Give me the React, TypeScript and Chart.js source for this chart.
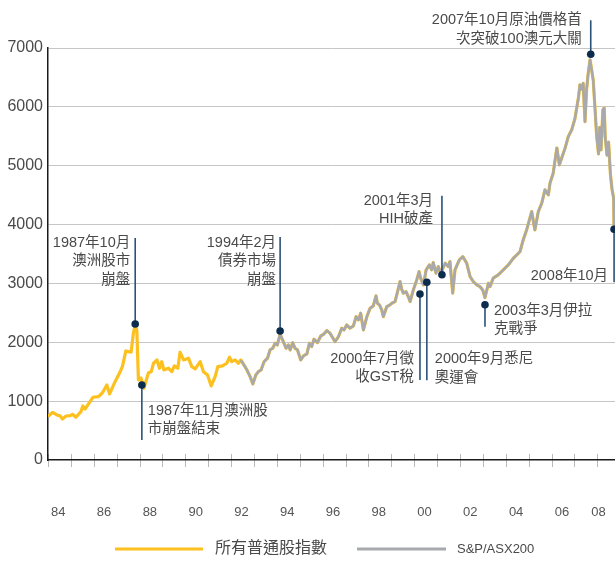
import { useEffect, useRef } from "react";
import { Chart, registerables } from "chart.js";

Chart.register(...registerables);

// ---- data ----
const allOrdsYears = [
  1984.0, 1984.2, 1984.39, 1984.53, 1984.63, 1984.79, 1984.97, 1985.07, 1985.22, 1985.44,
  1985.52, 1985.62, 1985.77, 1985.96, 1986.21, 1986.38, 1986.57, 1986.69, 1986.93, 1987.12,
  1987.25, 1987.4, 1987.63, 1987.73, 1987.81, 1987.88, 1987.95, 1988.06, 1988.19, 1988.32,
  1988.39, 1988.51, 1988.61, 1988.76, 1988.87, 1988.97, 1989.06, 1989.26, 1989.41, 1989.52,
  1989.67, 1989.77, 1989.92, 1990.14, 1990.28, 1990.43, 1990.65, 1990.79, 1990.97, 1991.13,
  1991.3, 1991.42, 1991.62, 1991.81, 1991.93, 1992.03, 1992.17, 1992.32, 1992.42, 1992.52,
  1992.69, 1992.83, 1992.95, 1993.08, 1993.19, 1993.31, 1993.44, 1993.59, 1993.7, 1993.82,
  1993.92, 1994.02, 1994.14, 1994.28, 1994.4, 1994.5, 1994.58, 1994.69, 1994.79, 1994.9,
  1995.04, 1995.16, 1995.31, 1995.42, 1995.52, 1995.62, 1995.77, 1995.92, 1996.05, 1996.18,
  1996.32, 1996.54, 1996.69, 1996.83, 1996.93, 1997.05, 1997.19, 1997.34, 1997.46, 1997.56,
  1997.66, 1997.78, 1997.93, 1998.07, 1998.21, 1998.33, 1998.39, 1998.48, 1998.58, 1998.65,
  1998.8, 1998.94, 1999.02, 1999.16, 1999.31, 1999.38, 1999.45, 1999.52, 1999.64, 1999.74,
  1999.82, 1999.96, 2000.11, 2000.21, 2000.28, 2000.4, 2000.52, 2000.66, 2000.76, 2000.83,
  2000.95, 2001.05, 2001.16, 2001.35, 2001.49, 2001.56, 2001.68, 2001.78, 2001.97, 2002.12,
  2002.29, 2002.44, 2002.58, 2002.73, 2002.87, 2002.99, 2003.09, 2003.24, 2003.31, 2003.45,
  2003.67, 2003.89, 2004.11, 2004.33, 2004.48, 2004.62, 2004.76, 2004.91, 2005.13, 2005.27,
  2005.42, 2005.57, 2005.71, 2005.86, 2005.93, 2006.07, 2006.19, 2006.23, 2006.34, 2006.44,
  2006.59, 2006.73, 2006.88, 2007.02, 2007.17, 2007.24, 2007.31, 2007.38, 2007.46, 2007.53,
  2007.6, 2007.68, 2007.75, 2007.82, 2007.9, 2007.97, 2008.05, 2008.1, 2008.16, 2008.24,
  2008.3, 2008.34, 2008.42, 2008.49, 2008.57, 2008.64, 2008.71, 2008.73, 2008.8,
];
const allOrdsValues = [
  740, 810, 765, 750, 697, 748, 753, 777, 726, 822,
  918, 867, 952, 1066, 1076, 1144, 1275, 1122, 1331, 1474,
  1586, 1853, 1831, 2154, 2295, 2210, 1360, 1394, 1219, 1394,
  1484, 1501, 1644, 1700, 1559, 1671, 1530, 1559, 1501, 1598,
  1559, 1831, 1700, 1729, 1586, 1547, 1671, 1501, 1445, 1258,
  1416, 1586, 1598, 1644, 1746, 1671, 1700, 1644, 1700, 1640,
  1530, 1416, 1292, 1445, 1501, 1530, 1671, 1729, 1870, 1899,
  1984, 1955, 2140, 2011, 1899, 1955, 1870, 1994, 1899, 1870,
  1700, 1768, 1802, 1984, 1927, 2052, 1994, 2110, 2140, 2199,
  2154, 2011, 2096, 2239, 2210, 2295, 2239, 2278, 2436, 2380,
  2494, 2210, 2436, 2579, 2618, 2788, 2664, 2635, 2550, 2436,
  2606, 2635, 2664, 2691, 2919, 3031, 2902, 2834, 2861, 2776,
  2691, 2890, 3060, 3201, 3089, 2975, 3230, 3315, 3230, 3354,
  3174, 3286, 3174, 3344, 3286, 3371, 2834, 3230, 3400, 3456,
  3344, 3116, 3031, 2975, 2946, 2890, 2760, 3003, 2946, 3089,
  3145, 3230, 3315, 3428, 3485, 3541, 3740, 3910, 4221, 3910,
  4221, 4363, 4590, 4505, 4703, 4873, 5200, 5300, 5015, 5130,
  5300, 5496, 5610, 5800, 6150, 6375, 6300, 6400, 5750, 6300,
  6570, 6800, 6630, 6450, 5950, 5500, 5200, 5650, 5270, 5950,
  5980, 5500, 5180, 5400, 4850, 4600, 4450, 3930, 3900,
];
const asx200StartYear = 1992.42;

const seriesNames = ["所有普通股指數", "S&P/ASX200"];
const yTickValues = [0, 1000, 2000, 3000, 4000, 5000, 6000, 7000];
const xTickLabels = ["84", "86", "88", "90", "92", "94", "96", "98", "00", "02", "04", "06", "08"];
const xTickYears = [1984.45, 1986.45, 1988.45, 1990.45, 1992.45, 1994.45, 1996.45, 1998.45, 2000.45, 2002.45, 2004.45, 2006.45, 2008.05];

const eventYears = [1987.81, 1988.1, 1994.14, 2001.21, 2000.25, 2000.55, 2003.09, 2007.71, 2008.73];
const eventValues = [2311, 1274, 2192, 3148, 2820, 3019, 2639, 6893, 3920];
const eventTexts = [
  ["1987年10月", "澳洲股市", "崩盤"],
  ["1987年11月澳洲股", "市崩盤結束"],
  ["1994年2月", "債券市場", "崩盤"],
  ["2001年3月", "HIH破產"],
  ["2000年7月徵", "收GST稅"],
  ["2000年9月悉尼", "奧運會"],
  ["2003年3月伊拉", "克戰爭"],
  ["2007年10月原油價格首", "次突破100澳元大關"],
  ["2008年10月"],
];

// ---- layout / style (pixel offsets relative to each event dot) ----
const eventLayout = [
  { align: "right", dx: -5, dy: -81, lineDy: -86 },
  { align: "left", dx: 6, dy: 26, lineDy: 55 },
  { align: "right", dx: -4, dy: -88, lineDy: -94 },
  { align: "right", dx: -9, dy: -74, lineDy: -79 },
  { align: "right", dx: -6, dy: 65, lineDy: 86 },
  { align: "left", dx: 8, dy: 77, lineDy: 98 },
  { align: "left", dx: 9, dy: 6, lineDy: 22 },
  { align: "right", dx: -9, dy: -34, lineDy: -34 },
  { align: "right", dx: -6, dy: 47, lineDy: 53 },
];

const FONT = "'Liberation Sans', 'Noto Sans CJK TC', sans-serif";
const YELLOW = "#FCC01F";
const GRAY = "#A8A9AC";
const NAVY = "#0B2C4D";
const NAVY_LINE = "#2A5279";
const TEXT = "#4a4a4a";

const overlayPlugin = {
  id: "overlay",
  beforeDraw(chart: any) {
    const { ctx, chartArea } = chart;
    const x = chart.scales.x;
    ctx.save();
    ctx.strokeStyle = "#b8b8b8";
    ctx.lineWidth = 1;
    for (let yr = 1984; yr <= 2008; yr++) {
      const px = Math.round(x.getPixelForValue(yr)) + 0.5;
      ctx.beginPath();
      ctx.moveTo(px, chartArea.bottom - 6);
      ctx.lineTo(px, chartArea.bottom + 7);
      ctx.stroke();
    }
    ctx.restore();
  },
  afterDraw(chart: any) {
    const { ctx } = chart;
    const x = chart.scales.x;
    const y = chart.scales.y;
    ctx.save();
    // events
    eventYears.forEach((yr, i) => {
      const px = x.getPixelForValue(yr);
      const py = y.getPixelForValue(eventValues[i]);
      const lay = eventLayout[i];
      ctx.strokeStyle = NAVY_LINE;
      ctx.lineWidth = 1.6;
      ctx.beginPath();
      ctx.moveTo(px, py);
      ctx.lineTo(px, py + lay.lineDy);
      ctx.stroke();
      ctx.fillStyle = NAVY;
      ctx.beginPath();
      ctx.arc(px, py, 3.8, 0, Math.PI * 2);
      ctx.fill();
      ctx.fillStyle = TEXT;
      ctx.font = `14.5px ${FONT}`;
      ctx.textAlign = lay.align;
      ctx.textBaseline = "middle";
      eventTexts[i].forEach((t, j) => {
        ctx.fillText(t, px + lay.dx, py + lay.dy + j * 18.4);
      });
    });
    // legend
    const ly = 549;
    ctx.lineWidth = 3;
    ctx.strokeStyle = YELLOW;
    ctx.beginPath();
    ctx.moveTo(115, ly);
    ctx.lineTo(203, ly);
    ctx.stroke();
    ctx.strokeStyle = GRAY;
    ctx.beginPath();
    ctx.moveTo(357, ly);
    ctx.lineTo(446, ly);
    ctx.stroke();
    ctx.fillStyle = TEXT;
    ctx.textAlign = "left";
    ctx.textBaseline = "middle";
    ctx.font = `16px ${FONT}`;
    ctx.fillText(seriesNames[0], 215, ly);
    ctx.font = `13px ${FONT}`;
    ctx.fillText(seriesNames[1], 457, ly);
    ctx.restore();
  },
};

export default function App() {
  const ref = useRef<HTMLCanvasElement>(null);
  useEffect(() => {
    document.body.style.margin = "0";
    const allOrds = allOrdsYears.map((yr, i) => ({ x: yr, y: allOrdsValues[i] }));
    const asx = allOrds.filter((p) => p.x >= asx200StartYear);
    const chart = new Chart(ref.current as HTMLCanvasElement, {
      type: "line",
      data: {
        datasets: [
          {
            label: seriesNames[1],
            data: asx,
            borderColor: GRAY,
            borderWidth: 2.6,
            pointRadius: 0,
            tension: 0,
            borderJoinStyle: "round",
            order: 0,
          },
          {
            label: seriesNames[0],
            data: allOrds,
            borderColor: YELLOW,
            borderWidth: 3.2,
            pointRadius: 0,
            tension: 0,
            borderJoinStyle: "round",
            order: 1,
          },
        ],
      },
      options: {
        responsive: false,
        animation: false,
        events: [],
        layout: { padding: { top: 48, left: 0, right: 0, bottom: 0 } },
        plugins: { legend: { display: false }, tooltip: { enabled: false } },
        scales: {
          x: {
            type: "linear",
            min: 1984,
            max: 2008.77,
            afterFit: (s: any) => {
              s.height = 103;
              s.paddingRight = 0;
              s.paddingLeft = 0;
            },
            afterBuildTicks: (s: any) => {
              s.ticks = xTickYears.map((v) => ({ value: v }));
            },
            grid: { display: false, drawTicks: true, tickLength: 45 },
            border: { display: true, color: "#1a1a1a", width: 1.5 },
            ticks: {
              autoSkip: false,
              maxRotation: 0,
              padding: 0,
              color: "#555",
              font: { size: 13, family: FONT },
              callback: (_v: any, i: number) => xTickLabels[i],
            },
          },
          y: {
            min: 0,
            max: 7000,
            afterFit: (s: any) => {
              s.width = 48;
            },
            afterBuildTicks: (s: any) => {
              s.ticks = yTickValues.map((v) => ({ value: v }));
            },
            grid: {
              color: (c: any) => (c.tick && c.tick.value === 0 ? "rgba(0,0,0,0)" : "#c6c6c6"),
              lineWidth: 1,
              drawTicks: false,
            },
            border: { display: true, color: "#1a1a1a", width: 1.5 },
            ticks: {
              padding: 5,
              color: TEXT,
              font: { size: 16, family: FONT },
              callback: (v: any) => String(v),
            },
          },
        },
      } as any,
      plugins: [overlayPlugin],
    });
    return () => chart.destroy();
  }, []);
  return (
    <canvas
      ref={ref}
      width={615}
      height={563}
      style={{ display: "block", width: 615, height: 563 }}
    />
  );
}
